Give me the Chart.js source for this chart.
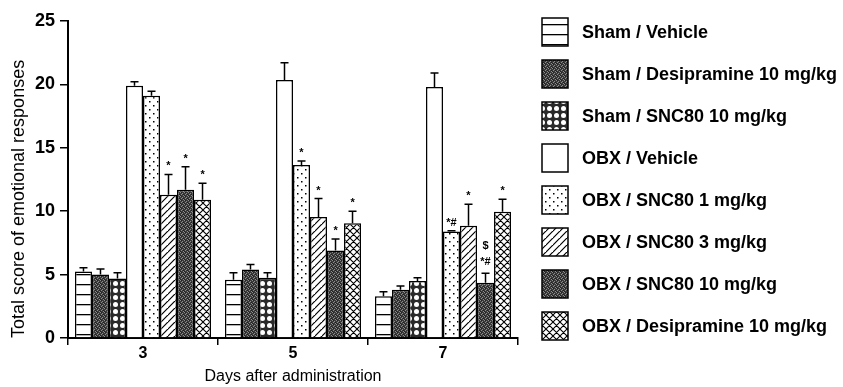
<!DOCTYPE html>
<html><head><meta charset="utf-8">
<script src="https://cdn.jsdelivr.net/npm/chart.js@4.4.1/dist/chart.umd.min.js"></script>
<style>html,body{margin:0;padding:0;background:#fff}#wrap{width:843px;height:387px;position:relative}</style>
</head><body><div id="wrap"><canvas id="c" width="843" height="387"></canvas></div>
<script>
// ---- data ----
const categories = ['3', '5', '7'];
const seriesLabels = [
  'Sham / Vehicle',
  'Sham / Desipramine 10 mg/kg',
  'Sham / SNC80 10 mg/kg',
  'OBX / Vehicle',
  'OBX / SNC80 1 mg/kg',
  'OBX / SNC80 3 mg/kg',
  'OBX / SNC80 10 mg/kg',
  'OBX / Desipramine 10 mg/kg'
];
const yTicks = [0, 5, 10, 15, 20, 25];

const shamVehicle        = [5.25, 4.6, 3.3];
const shamDesipramine    = [5.0, 5.4, 3.8];
const shamSNC80_10       = [4.7, 4.75, 4.5];
const obxVehicle         = [19.9, 20.35, 19.8];
const obxSNC80_1         = [19.1, 13.65, 8.4];
const obxSNC80_3         = [11.3, 9.55, 8.85];
const obxSNC80_10        = [11.7, 6.9, 4.35];
const obxDesipramine     = [10.9, 9.05, 9.95];

const shamVehicleErr     = [0.3, 0.55, 0.35];
const shamDesipramineErr = [0.45, 0.4, 0.3];
const shamSNC80_10Err    = [0.45, 0.4, 0.25];
const obxVehicleErr      = [0.3, 1.35, 1.1];
const obxSNC80_1Err      = [0.35, 0.3, 0.05];
const obxSNC80_3Err      = [1.6, 1.45, 1.7];
const obxSNC80_10Err     = [1.8, 0.9, 0.75];
const obxDesipramineErr  = [1.3, 0.95, 1.0];

const obxSNC80_1Marks    = [[], ['*'], ['*#']];
const obxSNC80_3Marks    = [['*'], ['*'], ['*']];
const obxSNC80_10Marks   = [['*'], ['*'], ['$', '*#']];
const obxDesipramineMarks= [['*'], ['*'], ['*']];

const seriesValues = [shamVehicle, shamDesipramine, shamSNC80_10, obxVehicle, obxSNC80_1, obxSNC80_3, obxSNC80_10, obxDesipramine];
const seriesErrors = [shamVehicleErr, shamDesipramineErr, shamSNC80_10Err, obxVehicleErr, obxSNC80_1Err, obxSNC80_3Err, obxSNC80_10Err, obxDesipramineErr];
const seriesMarks  = [null, null, null, null, obxSNC80_1Marks, obxSNC80_3Marks, obxSNC80_10Marks, obxDesipramineMarks];

// ---- patterns ----
const canvas = document.getElementById('c');
const mainCtx = canvas.getContext('2d');
function makePattern(kind) {
  const c = document.createElement('canvas');
  let w = 8, h = 8;
  if (kind === 'hlines') { w = 10; h = 10; }
  if (kind === 'dark') { w = 4; h = 4; }
  if (kind === 'circles') { w = 7; h = 7; }
  if (kind === 'cross') { w = 7; h = 7; }
  if (kind === 'diag') { w = 7; h = 7; }
  c.width = w; c.height = h;
  const g = c.getContext('2d');
  g.fillStyle = '#fff'; g.fillRect(0, 0, w, h);
  g.strokeStyle = '#000'; g.fillStyle = '#000';
  if (kind === 'hlines') {
    g.fillRect(0, 4, w, 1.3);
  } else if (kind === 'dark') {
    g.fillStyle = '#3a3a3a'; g.fillRect(0, 0, w, h);
    g.fillStyle = '#8c8c8c';
    [[0,0],[2,1],[1,2],[3,3]].forEach(p => g.fillRect(p[0], p[1], 1, 1));
    g.fillStyle = '#222';
    [[1,0],[3,2],[0,3]].forEach(p => g.fillRect(p[0], p[1], 1, 1));
  } else if (kind === 'circles') {
    g.fillStyle = '#2a2a2a'; g.fillRect(0, 0, w, h);
    g.fillStyle = '#fff';
    g.beginPath(); g.arc(3.5, 3.5, 2.5, 0, Math.PI * 2); g.fill();
  } else if (kind === 'dots') {
    g.fillRect(1, 1, 1.5, 1.5);
    g.fillRect(5, 5, 1.5, 1.5);
  } else if (kind === 'diag') {
    g.lineWidth = 1.2;
    g.beginPath();
    g.moveTo(-1, h + 1); g.lineTo(w + 1, -1);
    g.moveTo(-1 - w, h + 1); g.lineTo(1, -1);
    g.moveTo(w - 1, 2 * h + 1); g.lineTo(2 * w + 1, h - 1);
    g.stroke();
  } else if (kind === 'cross') {
    g.lineWidth = 1.1;
    g.beginPath();
    g.moveTo(-1, h + 1); g.lineTo(w + 1, -1);
    g.moveTo(-1 - w, h + 1); g.lineTo(1, -1);
    g.moveTo(w - 1, 2 * h + 1); g.lineTo(2 * w + 1, h - 1);
    g.moveTo(-1, -1); g.lineTo(w + 1, h + 1);
    g.moveTo(-1 - w, -1 - h); g.lineTo(1, 1);
    g.moveTo(w - 1, h - 1); g.lineTo(2 * w + 1, 2 * h + 1);
    g.moveTo(-1 - w, -1); g.lineTo(1, h + 1);
    g.moveTo(w - 1, -1 - h); g.lineTo(2*w+1, 1);
    g.stroke();
  }
  if (kind === 'white') return '#ffffff';
  return mainCtx.createPattern(c, 'repeat');
}
const patternKinds = ['hlines', 'dark', 'circles', 'white', 'dots', 'diag', 'dark', 'cross'];
const fills = patternKinds.map(makePattern);

// ---- plugins ----
const errorBars = {
  id: 'errorBars',
  afterDatasetsDraw(chart) {
    const ctx = chart.ctx, ys = chart.scales.y;
    ctx.save();
    ctx.strokeStyle = '#000'; ctx.lineWidth = 1.5;
    chart.data.datasets.forEach((ds, di) => {
      const meta = chart.getDatasetMeta(di);
      meta.data.forEach((bar, i) => {
        const v = ds.data[i], e = seriesErrors[di][i];
        const yTop = ys.getPixelForValue(v + e);
        const x = bar.x;
        ctx.beginPath();
        ctx.moveTo(x, bar.y); ctx.lineTo(x, yTop);
        ctx.moveTo(x - 4, yTop); ctx.lineTo(x + 4, yTop);
        ctx.stroke();
        const marks = seriesMarks[di] && seriesMarks[di][i];
        if (marks && marks.length) {
          ctx.fillStyle = '#000';
          ctx.font = 'bold 11px "Liberation Sans"';
          ctx.textAlign = 'center'; ctx.textBaseline = 'alphabetic';
          const n = marks.length;
          const gap = n > 1 ? 8 : 5;
          marks.forEach((m, k) => {
            ctx.fillText(m, x, yTop - gap - (n - 1 - k) * 16);
          });
        }
      });
    });
    ctx.restore();
  }
};
const sideLegend = {
  id: 'sideLegend',
  afterDraw(chart) {
    const ctx = chart.ctx;
    const x0 = chart.chartArea.right + 24;
    const yStart = chart.chartArea.top + 11;
    ctx.save();
    chart.data.datasets.forEach((ds, i) => {
      const cy = yStart + i * 42;
      ctx.fillStyle = ds.backgroundColor;
      ctx.fillRect(x0, cy - 14, 26, 28);
      ctx.strokeStyle = '#000'; ctx.lineWidth = 1.5;
      ctx.strokeRect(x0, cy - 14, 26, 28);
      ctx.fillStyle = '#000';
      ctx.font = 'bold 18px "Liberation Sans"';
      ctx.textAlign = 'left'; ctx.textBaseline = 'middle';
      ctx.fillText(ds.label, x0 + 40, cy + 1);
    });
    ctx.restore();
  }
};

new Chart(canvas, {
  type: 'bar',
  data: {
    labels: categories,
    datasets: seriesLabels.map((l, i) => ({
      label: l,
      data: seriesValues[i],
      backgroundColor: fills[i],
      borderColor: '#000',
      borderWidth: 1.5,
      borderSkipped: 'bottom',
      categoryPercentage: 0.907,
      barPercentage: 1
    }))
  },
  options: {
    responsive: false,
    animation: false,
    devicePixelRatio: 1,
    layout: { padding: { left: 0, right: 325, top: 21, bottom: 0 } },
    plugins: { legend: { display: false }, tooltip: { enabled: false } },
    scales: {
      x: {
        offset: true,
        grid: { offset: true, drawOnChartArea: false, drawTicks: true, tickLength: 7, color: '#000', lineWidth: 1.5 },
        border: { color: '#000', width: 2 },
        ticks: { color: '#000', font: { family: 'Liberation Sans', size: 16, weight: 'bold', lineHeight: 1 }, padding: 1 },
        title: { display: true, text: 'Days after administration', color: '#000',
          font: { family: 'Liberation Sans', size: 16, lineHeight: 1.2 }, padding: { top: 0, bottom: 1 } },
        afterFit(s) { s.height = 49; }
      },
      y: {
        min: 0, max: 25,
        afterBuildTicks(s) { s.ticks = yTicks.map(v => ({ value: v })); },
        ticks: { color: '#000', font: { family: 'Liberation Sans', size: 18, weight: 'bold' }, padding: 5 },
        grid: { drawOnChartArea: false, tickLength: 8, color: '#000', lineWidth: 1.5 },
        border: { color: '#000', width: 2 },
        title: { display: true, text: 'Total score of emotional responses', align: 'start', color: '#000',
          font: { family: 'Liberation Sans', size: 18, lineHeight: 1.2 }, padding: { top: 8, bottom: 0 } },
        afterFit(s) { s.width = 68; }
      }
    }
  },
  plugins: [errorBars, sideLegend]
});
</script></body></html>
